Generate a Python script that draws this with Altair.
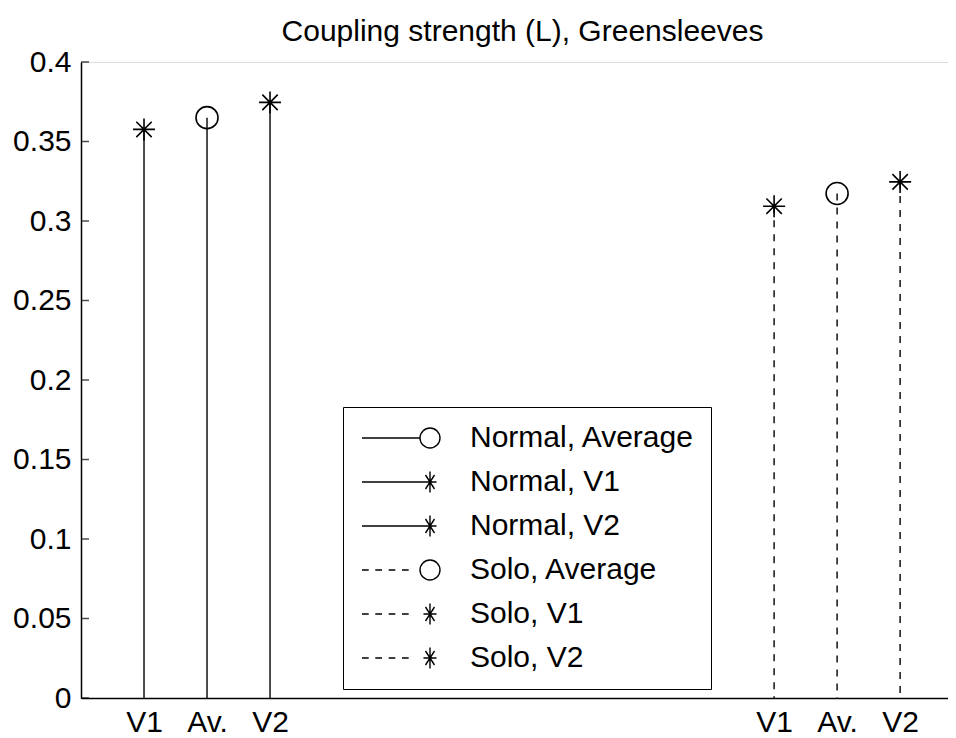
import altair as alt
import pandas as pd

# ---- data ----
groups = ["Normal", "Normal", "Normal", "Solo", "Solo", "Solo"]
x_pos = [1, 2, 3, 11, 12, 13]
tick_labels = ["V1", "Av.", "V2", "V1", "Av.", "V2"]
markers = ["asterisk", "circle", "asterisk", "asterisk", "circle", "asterisk"]
values = [0.3576, 0.3650, 0.3746, 0.3093, 0.3173, 0.3246]

legend_entries = ["Normal, Average", "Normal, V1", "Normal, V2",
                  "Solo, Average", "Solo, V1", "Solo, V2"]
legend_markers = ["circle", "asterisk", "asterisk", "circle", "asterisk", "asterisk"]
legend_dashed = [False, False, False, True, True, True]

y_ticks = [0, 0.05, 0.1, 0.15, 0.2, 0.25, 0.3, 0.35, 0.4]

FONT = "Liberation Sans"
FS = 30

# marker glyphs (unit-square symbol paths)
ASTER = "M-1,0H1M0,-1V1M-0.7,-0.7L0.7,0.7M-0.7,0.7L0.7,-0.7"
CIRC = "M1,0A1,1,0,1,1,-1,0A1,1,0,1,1,1,0Z"
LEG_ASTER = "M-0.65,0H0.65M0,-1.05V1.05M-0.45,-0.7L0.45,0.7M-0.45,0.7L0.45,-0.7"
SOLID_TO_CIRC = "M-6.8,0H-1"
SOLID_TO_AST = "M-6.8,0H-0.65"
DASHED = "M-6.8,0H-6.13M-5.47,0H-4.8M-4.13,0H-3.47M-2.8,0H-2.13"

df = pd.DataFrame({"group": groups, "x": x_pos, "label": tick_labels,
                   "marker": markers, "value": values})
leg = pd.DataFrame({"entry": legend_entries})

label_expr = ""
for p, l in zip(x_pos, tick_labels):
    label_expr += f"datum.value == {p} ? '{l}' : "
label_expr += "''"

xscale = alt.Scale(domain=[0, 13.76], nice=False, zero=False)
yscale = alt.Scale(domain=[0, 0.4], nice=False)

xenc = alt.X("x:Q", scale=xscale,
             axis=alt.Axis(values=x_pos, labelExpr=label_expr, ticks=False,
                           grid=False, title=None, labelPadding=9,
                           labelFontSize=FS, labelFont=FONT, labelColor="black",
                           domainColor="black", domainWidth=1.5, labelFlush=False))
yenc = alt.Y("value:Q", scale=yscale,
             axis=alt.Axis(values=y_ticks, format=".2~f", ticks=False, grid=False,
                           title=None, labelPadding=10, labelFontSize=FS,
                           labelFont=FONT, labelColor="black", domainColor="black",
                           domainWidth=1.5, labelFlush=False))

base = alt.Chart(df)

stems_normal = base.transform_filter(alt.datum.group == "Normal").mark_rule(
    color="black", strokeWidth=1.4).encode(x=xenc, y=yenc, y2=alt.datum(0))
stems_solo = base.transform_filter(alt.datum.group == "Solo").mark_rule(
    color="black", strokeWidth=1.4, strokeDash=[7, 7]).encode(
    x=xenc, y=yenc, y2=alt.datum(0))

pts_ast = base.transform_filter(alt.datum.marker == "asterisk").mark_point(
    shape=ASTER, size=484, filled=False, color="black", strokeWidth=1.6,
    opacity=1).encode(x=xenc, y=yenc)
pts_circ = base.transform_filter(alt.datum.marker == "circle").mark_point(
    shape=CIRC, size=484, filled=False, color="black", strokeWidth=1.6,
    opacity=1).encode(x=xenc, y=yenc)

ticks_df = pd.DataFrame({"t": y_ticks})
inward_ticks = alt.Chart(ticks_df).mark_tick(
    color="black", thickness=1.5, size=8, orient="horizontal").encode(
    y=alt.Y("t:Q", scale=yscale), x=alt.value(4))

leg_shapes = []
for m, d in zip(legend_markers, legend_dashed):
    line = DASHED if d else (SOLID_TO_CIRC if m == "circle" else SOLID_TO_AST)
    leg_shapes.append(line + (CIRC if m == "circle" else LEG_ASTER))

legend_layer = alt.Chart(leg).mark_point(
    filled=False, color="black", clip=True, strokeWidth=1.4, opacity=1).encode(
    x=alt.value(0), y=alt.value(-300),
    shape=alt.Shape("entry:N", scale=alt.Scale(domain=legend_entries, range=leg_shapes),
                    legend=alt.Legend(orient="none", legendX=262, legendY=345, title=None,
                                      padding=16, strokeColor="black", fillColor="white",
                                      symbolSize=400, symbolOffset=56, labelOffset=25,
                                      labelFontSize=FS, labelFont=FONT, labelColor="black",
                                      rowPadding=14, symbolStrokeWidth=1.4,
                                      symbolStrokeColor="black",
                                      symbolFillColor="transparent", symbolOpacity=1,
                                      labelLimit=400)),
)

chart = alt.layer(stems_normal, stems_solo, pts_ast, pts_circ, inward_ticks,
                  legend_layer).properties(
    width=867, height=636,
    title=alt.TitleParams("Coupling strength (L), Greensleeves", font=FONT, fontSize=FS,
                          fontWeight="normal", color="black", anchor="middle",
                          frame="group", dx=8, offset=0),
    autosize=alt.AutoSizeParams(type="none"),
    padding={"left": 73, "top": 54, "right": 0, "bottom": 40},
).configure_view(stroke=None).configure(background="white")

chart.save("out.html", embed_options={"renderer": "svg", "actions": False})
